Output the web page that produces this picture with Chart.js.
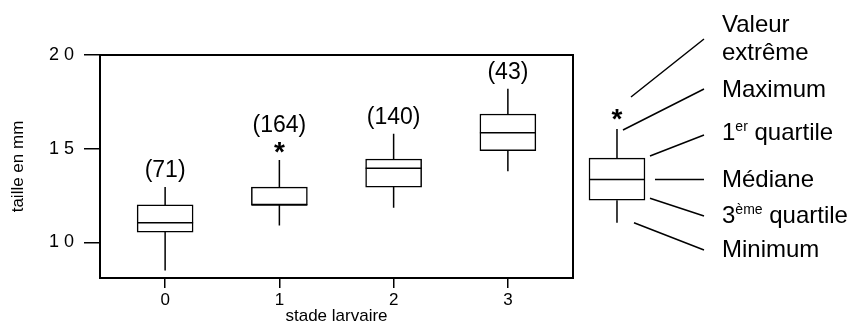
<!DOCTYPE html>
<html>
<head>
<meta charset="utf-8">
<script src="https://cdn.jsdelivr.net/npm/chart.js@4"></script>
<style>
html, body { margin: 0; padding: 0; background: #fff; }
#wrap { width: 853px; height: 332px; }
</style>
</head>
<body>
<div id="wrap"><canvas id="myChart"></canvas></div>
<script>
const stages = [0, 1, 2, 3];
const stageLabels = ['0', '1', '2', '3'];
const counts = [71, 164, 140, 43];
const minima = [8.5, 10.9, 11.85, 13.8];
const lowerQuartiles = [10.55, 12, 12.95, 14.9];
const medians = [11.05, 12, 13.95, 15.85];
const upperQuartiles = [12, 12.95, 14.45, 16.85];
const maxima = [12.95, 14.4, 15.8, 18.2];
const extremes = [null, 15.05, null, null];

const yTicks = [10, 15, 20];
const yTickLabels = ['1 0', '1 5', '2 0'];

// schematic box on the right, drawn through the same scales
const keyX = 3.955;
const keyStats = { min: 11.05, q1: 12.25, median: 13.35, q3: 14.5, max: 16.05, extreme: 16.8 };

const FONT = '"Liberation Sans", Arial, sans-serif';

function drawStar(ctx, px, py) {
    ctx.font = 'bold 28px ' + FONT;
    ctx.textAlign = 'center';
    ctx.textBaseline = 'alphabetic';
    const m = ctx.measureText('*');
    const base = py + (m.actualBoundingBoxAscent - m.actualBoundingBoxDescent) / 2;
    ctx.fillText('*', px, base);
    return py - (m.actualBoundingBoxAscent + m.actualBoundingBoxDescent) / 2;
}

function drawWhiskers(ctx, xs, ys, cx, halfW, s) {
    const px = xs.getPixelForValue(cx);
    ctx.beginPath();
    ctx.moveTo(px, ys.getPixelForValue(s.q3));
    ctx.lineTo(px, ys.getPixelForValue(s.max));
    ctx.moveTo(px, ys.getPixelForValue(s.q1));
    ctx.lineTo(px, ys.getPixelForValue(s.min));
    ctx.moveTo(px - halfW, ys.getPixelForValue(s.median));
    ctx.lineTo(px + halfW, ys.getPixelForValue(s.median));
    ctx.stroke();
}

function drawRich(ctx, parts, x, y) {
    let cx = x;
    ctx.textAlign = 'left';
    ctx.textBaseline = 'middle';
    parts.forEach(p => {
        if (p.sup) {
            ctx.font = '14px ' + FONT;
            ctx.fillText(p.t, cx, y - 6);
        } else {
            ctx.font = '24px ' + FONT;
            ctx.fillText(p.t, cx, y);
        }
        cx += ctx.measureText(p.t).width;
    });
}

const boxPlotPlugin = {
    id: 'boxPlot',
    beforeDatasetsDraw(chart) {
        const { ctx, chartArea: a } = chart;
        ctx.save();
        ctx.strokeStyle = '#000';
        ctx.lineWidth = 2;
        ctx.strokeRect(a.left, a.top, a.right - a.left, a.bottom - a.top);
        ctx.restore();
    },
    afterDatasetsDraw(chart) {
        const ctx = chart.ctx;
        const xs = chart.scales.x, ys = chart.scales.y;
        const meta = chart.getDatasetMeta(0);
        ctx.save();
        ctx.strokeStyle = '#000';
        ctx.fillStyle = '#000';
        ctx.lineWidth = 1.5;

        stages.forEach((s, i) => {
            const halfW = meta.data[i].width / 2;
            drawWhiskers(ctx, xs, ys, s, halfW, {
                min: minima[i], q1: lowerQuartiles[i], median: medians[i],
                q3: upperQuartiles[i], max: maxima[i]
            });
            const px = xs.getPixelForValue(s);
            let top = ys.getPixelForValue(maxima[i]);
            if (extremes[i] !== null) {
                top = drawStar(ctx, px, ys.getPixelForValue(extremes[i]));
            }
            ctx.font = '23px ' + FONT;
            ctx.textAlign = 'center';
            ctx.textBaseline = 'alphabetic';
            const txt = '(' + counts[i] + ')';
            const m = ctx.measureText(txt);
            ctx.fillText(txt, px, top - 5 - m.actualBoundingBoxDescent);
        });

        // key
        const keyMeta = chart.getDatasetMeta(1);
        const kHalf = keyMeta.data[0].width / 2;
        drawWhiskers(ctx, xs, ys, keyX, kHalf, keyStats);
        const kx = xs.getPixelForValue(keyX);
        const starY = ys.getPixelForValue(keyStats.extreme);
        drawStar(ctx, kx, starY);
        const right = kx + kHalf;
        const endX = 704;
        const leaders = [
            [kx + 14, starY - 18, endX, 39],
            [kx + 6, ys.getPixelForValue(keyStats.max) + 1, endX, 89],
            [right + 5, ys.getPixelForValue(keyStats.q3) - 2, endX, 135],
            [right + 10, ys.getPixelForValue(keyStats.median), endX, ys.getPixelForValue(keyStats.median)],
            [right + 5, ys.getPixelForValue(keyStats.q1) - 2, endX, 216],
            [kx + 17, ys.getPixelForValue(keyStats.min), endX, 250]
        ];
        ctx.lineWidth = 1.5;
        ctx.beginPath();
        leaders.forEach(l => { ctx.moveTo(l[0], l[1]); ctx.lineTo(l[2], l[3]); });
        ctx.stroke();

        const tx = 722;
        drawRich(ctx, [{ t: 'Valeur' }], tx, 25);
        drawRich(ctx, [{ t: 'extrême' }], tx, 53);
        drawRich(ctx, [{ t: 'Maximum' }], tx, 90);
        drawRich(ctx, [{ t: '1' }, { t: 'er', sup: true }, { t: ' quartile' }], tx, 133);
        drawRich(ctx, [{ t: 'Médiane' }], tx, 180);
        drawRich(ctx, [{ t: '3' }, { t: 'ème', sup: true }, { t: ' quartile' }], tx, 216);
        drawRich(ctx, [{ t: 'Minimum' }], tx, 250);
        ctx.restore();
    }
};

const ctx = document.getElementById('myChart').getContext('2d');
new Chart(ctx, {
    type: 'bar',
    data: {
        datasets: [{
            data: stages.map((s, i) => ({ x: s, y: [lowerQuartiles[i], upperQuartiles[i]] })),
            backgroundColor: '#fff',
            borderColor: '#000',
            borderWidth: 1.5,
            borderSkipped: false,
            barThickness: 56,
            grouped: false
        }, {
            data: [{ x: keyX, y: [keyStats.q1, keyStats.q3] }],
            backgroundColor: '#fff',
            borderColor: '#000',
            borderWidth: 1.5,
            borderSkipped: false,
            barThickness: 56,
            grouped: false,
            clip: false
        }]
    },
    options: {
        responsive: true,
        maintainAspectRatio: false,
        animation: false,
        layout: { padding: { top: 55, right: 280, left: 0, bottom: 0 } },
        plugins: { legend: { display: false }, tooltip: { enabled: false } },
        scales: {
            x: {
                type: 'linear',
                min: -0.57,
                max: 3.57,
                offset: false,
                afterBuildTicks: axis => { axis.ticks = stages.map(v => ({ value: v })); },
                afterFit: axis => { axis.height = 54; },
                grid: { offset: false, drawOnChartArea: false, tickLength: 10, color: '#000', lineWidth: 1.5 },
                border: { display: false },
                ticks: {
                    color: '#000', padding: 2, font: { size: 17, family: FONT },
                    callback: (v, i) => stageLabels[i]
                },
                title: {
                    display: true, text: 'stade larvaire', color: '#000',
                    font: { size: 17, family: FONT }, padding: { top: 0, bottom: 5 }
                }
            },
            y: {
                min: 8.1,
                max: 20,
                afterBuildTicks: axis => { axis.ticks = yTicks.map(v => ({ value: v })); },
                afterFit: axis => { axis.width = 100; },
                grid: { drawOnChartArea: false, tickLength: 16, color: '#000', lineWidth: 1.5 },
                border: { display: false },
                ticks: {
                    color: '#000', padding: 10, font: { size: 18, family: FONT },
                    callback: (v, i) => yTickLabels[i]
                },
                title: {
                    display: true, text: 'taille en mm', color: '#000',
                    font: { size: 17, family: FONT }, padding: { top: 8, bottom: 0 }
                }
            }
        }
    },
    plugins: [boxPlotPlugin]
});
</script>
</body>
</html>
